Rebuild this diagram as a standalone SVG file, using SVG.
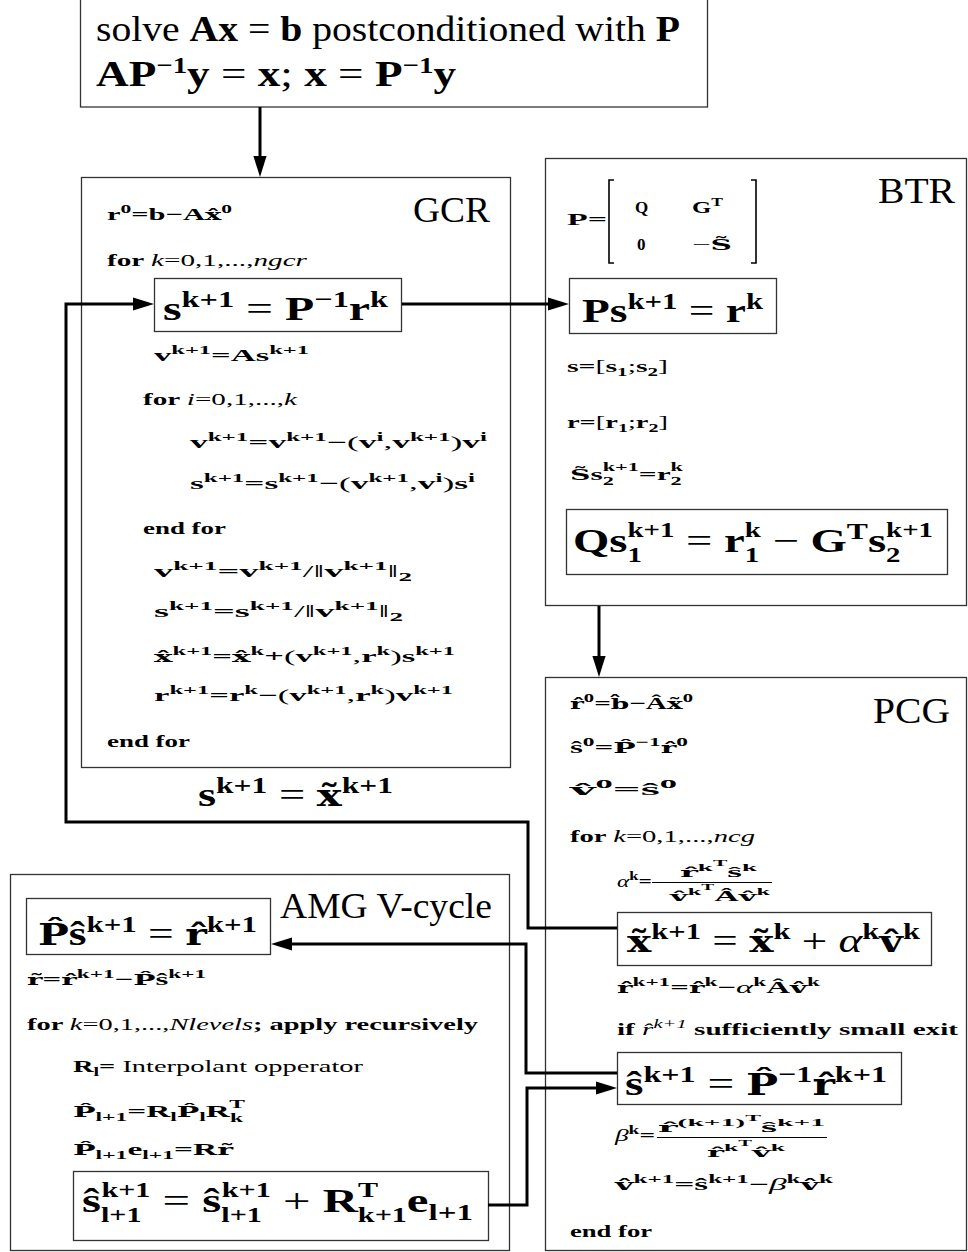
<svg xmlns="http://www.w3.org/2000/svg" width="968" height="1252" viewBox="0 0 968 1252">
<defs>
<style>
text{font-family:"Liberation Serif","DejaVu Serif",serif;fill:#000}
.T{font-size:36px}
.L{font-size:34px;font-weight:bold}
.s{font-size:17px;font-weight:bold}
.f{font-size:14px;font-weight:bold}
.b{font-weight:bold}
.n{font-weight:normal}
.i{font-style:italic;font-weight:normal}
.h{font-family:"DejaVu Serif",serif;font-size:0.9em}
.L .u{font-size:23px;baseline-shift:13px}
.L .d{font-size:23px;baseline-shift:-8px}
.L .uh{font-size:21px;baseline-shift:15px}
.L .dl{font-size:21px;baseline-shift:-10px}
.s .u{font-size:12px;baseline-shift:7px}
.s .d{font-size:12px;baseline-shift:-4px}
.s .uh{font-size:12px;baseline-shift:9px}
.s .dl{font-size:12px;baseline-shift:-5px}
.f .u{font-size:10px;baseline-shift:6px}
.f .uu{font-size:8px;baseline-shift:11px}
.box{fill:#fff;stroke:#333;stroke-width:1.3}
.ibox{fill:none;stroke:#333;stroke-width:1.3}
.c{fill:none;stroke:#000;stroke-width:3;stroke-linejoin:miter}
.bar{stroke:#000;stroke-width:1}
.br{fill:none;stroke:#000;stroke-width:1.6}
</style>
<marker id="ah" markerWidth="7" markerHeight="4.4" refX="5" refY="2.2" orient="auto" markerUnits="strokeWidth"><path d="M0,0 L7,2.2 L0,4.4 Z" fill="#000"/></marker>
</defs>

<g id="top">
<rect class="box" x="80.5" y="-1" width="627" height="108"/>
<text class="T" x="96" y="41" textLength="584" lengthAdjust="spacingAndGlyphs">solve <tspan class="b">Ax</tspan> = <tspan class="b">b</tspan> postconditioned with <tspan class="b">P</tspan></text>
<text class="L" style="font-size:36px" x="96" y="86" textLength="360" lengthAdjust="spacingAndGlyphs">AP<tspan class="u">−1</tspan>y<tspan class="n"> = </tspan>x<tspan class="n">; </tspan>x<tspan class="n"> = </tspan>P<tspan class="u">−1</tspan>y</text>
</g>

<g id="gcr">
<rect class="box" x="81.5" y="177.5" width="429" height="590"/>
<text class="T" x="413" y="222" textLength="77" lengthAdjust="spacingAndGlyphs">GCR</text>
<text class="s" x="107" y="220" textLength="125" lengthAdjust="spacingAndGlyphs">r<tspan class="u">0</tspan>=b−A<tspan class="h">x&#770;</tspan><tspan class="u">0</tspan></text>
<text class="s" x="107" y="266" textLength="200" lengthAdjust="spacingAndGlyphs">for <tspan class="i">k</tspan><tspan class="n">=0,1,...,</tspan><tspan class="i">ngcr</tspan></text>
<g id="gcr-solve">
<rect class="ibox" x="154.5" y="278.5" width="247" height="53"/>
<text class="L" x="163" y="320" textLength="225" lengthAdjust="spacingAndGlyphs">s<tspan class="u">k+1</tspan><tspan class="n"> = </tspan>P<tspan class="u">−1</tspan>r<tspan class="u">k</tspan></text>
</g>
<text class="s" x="154" y="361" textLength="155" lengthAdjust="spacingAndGlyphs">v<tspan class="u">k+1</tspan>=As<tspan class="u">k+1</tspan></text>
<text class="s" x="143" y="405" textLength="154" lengthAdjust="spacingAndGlyphs">for <tspan class="i">i</tspan><tspan class="n">=0,1,...,</tspan><tspan class="i">k</tspan></text>
<text class="s" x="190" y="448" textLength="297" lengthAdjust="spacingAndGlyphs">v<tspan class="u">k+1</tspan>=v<tspan class="u">k+1</tspan>−<tspan class="n">(</tspan>v<tspan class="u">i</tspan><tspan class="n">,</tspan>v<tspan class="u">k+1</tspan><tspan class="n">)</tspan>v<tspan class="u">i</tspan></text>
<text class="s" x="190" y="489" textLength="285" lengthAdjust="spacingAndGlyphs">s<tspan class="u">k+1</tspan>=s<tspan class="u">k+1</tspan>−<tspan class="n">(</tspan>v<tspan class="u">k+1</tspan><tspan class="n">,</tspan>v<tspan class="u">i</tspan><tspan class="n">)</tspan>s<tspan class="u">i</tspan></text>
<text class="s" x="143" y="534" textLength="83" lengthAdjust="spacingAndGlyphs">end for</text>
<text class="s" x="154" y="577" textLength="258" lengthAdjust="spacingAndGlyphs">v<tspan class="u">k+1</tspan>=v<tspan class="u">k+1</tspan><tspan class="n">/‖</tspan>v<tspan class="u">k+1</tspan><tspan class="n">‖</tspan><tspan class="d">2</tspan></text>
<text class="s" x="154" y="617" textLength="249" lengthAdjust="spacingAndGlyphs">s<tspan class="u">k+1</tspan>=s<tspan class="u">k+1</tspan><tspan class="n">/‖</tspan>v<tspan class="u">k+1</tspan><tspan class="n">‖</tspan><tspan class="d">2</tspan></text>
<text class="s" x="154" y="662" textLength="301" lengthAdjust="spacingAndGlyphs"><tspan class="h">x&#770;</tspan><tspan class="u">k+1</tspan>=<tspan class="h">x&#770;</tspan><tspan class="u">k</tspan>+<tspan class="n">(</tspan>v<tspan class="u">k+1</tspan><tspan class="n">,</tspan>r<tspan class="u">k</tspan><tspan class="n">)</tspan>s<tspan class="u">k+1</tspan></text>
<text class="s" x="154" y="701" textLength="299" lengthAdjust="spacingAndGlyphs">r<tspan class="u">k+1</tspan>=r<tspan class="u">k</tspan>−<tspan class="n">(</tspan>v<tspan class="u">k+1</tspan><tspan class="n">,</tspan>r<tspan class="u">k</tspan><tspan class="n">)</tspan>v<tspan class="u">k+1</tspan></text>
<text class="s" x="107" y="747" textLength="83" lengthAdjust="spacingAndGlyphs">end for</text>
</g>

<g id="label-s-eq-x">
<text class="L" x="198" y="806" textLength="195" lengthAdjust="spacingAndGlyphs">s<tspan class="u">k+1</tspan><tspan class="n"> = </tspan><tspan class="h">x&#771;</tspan><tspan class="u">k+1</tspan></text>
</g>

<g id="btr">
<rect class="box" x="545.5" y="158.5" width="421" height="447"/>
<text class="T" x="878" y="203" textLength="77" lengthAdjust="spacingAndGlyphs">BTR</text>
<text class="s" x="567" y="225" textLength="40" lengthAdjust="spacingAndGlyphs">P=</text>
<path class="br" d="M614,180 H609 V263 H614"/>
<path class="br" d="M751,180 H756 V263 H751"/>
<text class="s" x="635" y="213">Q</text>
<text class="s" x="692" y="213" textLength="31" lengthAdjust="spacingAndGlyphs">G<tspan class="u">T</tspan></text>
<text class="s" x="637" y="250">0</text>
<text class="s" x="692" y="250" textLength="40" lengthAdjust="spacingAndGlyphs"><tspan class="n">−</tspan><tspan class="h">S&#771;</tspan></text>
<g id="btr-solve">
<rect class="ibox" x="569.5" y="278.5" width="207" height="55"/>
<text class="L" x="582" y="322" textLength="181" lengthAdjust="spacingAndGlyphs">Ps<tspan class="u">k+1</tspan><tspan class="n"> = </tspan>r<tspan class="u">k</tspan></text>
</g>
<text class="s" x="567" y="372" textLength="101" lengthAdjust="spacingAndGlyphs">s=<tspan class="n">[</tspan>s<tspan class="d">1</tspan><tspan class="n">;</tspan>s<tspan class="d">2</tspan><tspan class="n">]</tspan></text>
<text class="s" x="567" y="428" textLength="101" lengthAdjust="spacingAndGlyphs">r=<tspan class="n">[</tspan>r<tspan class="d">1</tspan><tspan class="n">;</tspan>r<tspan class="d">2</tspan><tspan class="n">]</tspan></text>
<text class="s" x="570" y="480" textLength="113" lengthAdjust="spacingAndGlyphs"><tspan class="h">S&#771;</tspan>s<tspan class="dl">2</tspan><tspan class="uh" dx="-6">k+1</tspan>=r<tspan class="dl">2</tspan><tspan class="uh" dx="-6">k</tspan></text>
<g id="btr-q">
<rect class="ibox" x="566.5" y="509.5" width="381" height="65"/>
<text class="L" x="573" y="552" textLength="360" lengthAdjust="spacingAndGlyphs">Qs<tspan class="dl">1</tspan><tspan class="uh" dx="-10.5">k+1</tspan><tspan class="n"> = </tspan>r<tspan class="dl">1</tspan><tspan class="uh" dx="-10.5">k</tspan><tspan class="n"> − </tspan>G<tspan class="u">T</tspan>s<tspan class="dl">2</tspan><tspan class="uh" dx="-10.5">k+1</tspan></text>
</g>
</g>

<g id="pcg">
<rect class="box" x="545.5" y="677.5" width="421" height="573"/>
<text class="T" x="873" y="723" textLength="77" lengthAdjust="spacingAndGlyphs">PCG</text>
<text class="s" x="570" y="709" textLength="123" lengthAdjust="spacingAndGlyphs"><tspan class="h">r&#770;</tspan><tspan class="u">0</tspan>=<tspan class="h">b&#770;</tspan>−Â<tspan class="h">x&#771;</tspan><tspan class="u">0</tspan></text>
<text class="s" x="570" y="753" textLength="118" lengthAdjust="spacingAndGlyphs">ŝ<tspan class="u">0</tspan>=<tspan class="h">P&#770;</tspan><tspan class="u">−1</tspan><tspan class="h">r&#770;</tspan><tspan class="u">0</tspan></text>
<text class="s" x="570" y="795" textLength="107" lengthAdjust="spacingAndGlyphs"><tspan class="h">v&#770;</tspan><tspan class="u">0</tspan>=ŝ<tspan class="u">0</tspan></text>
<text class="s" x="570" y="842" textLength="185" lengthAdjust="spacingAndGlyphs">for <tspan class="i">k</tspan><tspan class="n">=0,1,...,</tspan><tspan class="i">ncg</tspan></text>
<text class="s" x="617" y="887" textLength="35" lengthAdjust="spacingAndGlyphs"><tspan class="i">α</tspan><tspan class="u">k</tspan>=</text>
<text class="f" x="680" y="877" textLength="77" lengthAdjust="spacingAndGlyphs"><tspan class="h">r&#770;</tspan><tspan class="u">k</tspan><tspan class="uu">T</tspan>ŝ<tspan class="u">k</tspan></text>
<line class="bar" x1="652" y1="882.5" x2="772" y2="882.5"/>
<text class="f" x="670" y="901" textLength="100" lengthAdjust="spacingAndGlyphs"><tspan class="h">v&#770;</tspan><tspan class="u">k</tspan><tspan class="uu">T</tspan>Â<tspan class="h">v&#770;</tspan><tspan class="u">k</tspan></text>
<g id="pcg-x">
<rect class="ibox" x="617.5" y="912.5" width="314" height="53"/>
<text class="L" x="627" y="952" textLength="293" lengthAdjust="spacingAndGlyphs"><tspan class="h">x&#771;</tspan><tspan class="u">k+1</tspan><tspan class="n"> = </tspan><tspan class="h">x&#771;</tspan><tspan class="u">k</tspan><tspan class="n"> + </tspan><tspan class="i">α</tspan><tspan class="u">k</tspan><tspan class="h">v&#770;</tspan><tspan class="u">k</tspan></text>
</g>
<text class="s" x="617" y="993" textLength="203" lengthAdjust="spacingAndGlyphs"><tspan class="h">r&#770;</tspan><tspan class="u">k+1</tspan>=<tspan class="h">r&#770;</tspan><tspan class="u">k</tspan>−<tspan class="i">α</tspan><tspan class="u">k</tspan>Â<tspan class="h">v&#770;</tspan><tspan class="u">k</tspan></text>
<text class="s" x="617" y="1035" textLength="341" lengthAdjust="spacingAndGlyphs">if <tspan class="i">r&#770;</tspan><tspan class="u i">k+1</tspan> sufficiently small exit</text>
<g id="pcg-s">
<rect class="ibox" x="617.5" y="1052.5" width="284" height="52"/>
<text class="L" x="625" y="1095" textLength="262" lengthAdjust="spacingAndGlyphs">ŝ<tspan class="u">k+1</tspan><tspan class="n"> = </tspan><tspan class="h">P&#770;</tspan><tspan class="u">−1</tspan><tspan class="h">r&#770;</tspan><tspan class="u">k+1</tspan></text>
</g>
<text class="s" x="615" y="1141" textLength="40" lengthAdjust="spacingAndGlyphs"><tspan class="i">β</tspan><tspan class="u">k</tspan>=</text>
<text class="f" x="658" y="1132" textLength="167" lengthAdjust="spacingAndGlyphs"><tspan class="h">r&#770;</tspan><tspan class="u">(k+1)</tspan><tspan class="uu">T</tspan>ŝ<tspan class="u">k+1</tspan></text>
<line class="bar" x1="657" y1="1137.5" x2="827" y2="1137.5"/>
<text class="f" x="707" y="1157" textLength="78" lengthAdjust="spacingAndGlyphs"><tspan class="h">r&#770;</tspan><tspan class="u">k</tspan><tspan class="uu">T</tspan><tspan class="h">v&#770;</tspan><tspan class="u">k</tspan></text>
<text class="s" x="615" y="1190" textLength="218" lengthAdjust="spacingAndGlyphs"><tspan class="h">v&#770;</tspan><tspan class="u">k+1</tspan>=ŝ<tspan class="u">k+1</tspan>−<tspan class="i">β</tspan><tspan class="u">k</tspan><tspan class="h">v&#770;</tspan><tspan class="u">k</tspan></text>
<text class="s" x="570" y="1237" textLength="82" lengthAdjust="spacingAndGlyphs">end for</text>
</g>

<g id="amg">
<rect class="box" x="10.5" y="874.5" width="499" height="376"/>
<text class="T" x="280" y="918" textLength="212" lengthAdjust="spacingAndGlyphs">AMG V-cycle</text>
<g id="amg-solve">
<rect class="ibox" x="26.5" y="898.5" width="244" height="56"/>
<text class="L" x="38" y="945" textLength="219" lengthAdjust="spacingAndGlyphs"><tspan class="h">P&#770;</tspan>ŝ<tspan class="u">k+1</tspan><tspan class="n"> = </tspan><tspan class="h">r&#770;</tspan><tspan class="u">k+1</tspan></text>
</g>
<text class="s" x="27" y="985" textLength="179" lengthAdjust="spacingAndGlyphs"><tspan class="h">r&#771;</tspan>=<tspan class="h">r&#770;</tspan><tspan class="u">k+1</tspan>−<tspan class="h">P&#770;</tspan>ŝ<tspan class="u">k+1</tspan></text>
<text class="s" x="27" y="1030" textLength="451" lengthAdjust="spacingAndGlyphs">for <tspan class="i">k</tspan><tspan class="n">=0,1,...,</tspan><tspan class="i">Nlevels</tspan>; apply recursively</text>
<text class="s" x="73" y="1072" textLength="290" lengthAdjust="spacingAndGlyphs">R<tspan class="d">l</tspan>= <tspan class="n">Interpolant opperator</tspan></text>
<text class="s" x="73" y="1117" textLength="172" lengthAdjust="spacingAndGlyphs"><tspan class="h">P&#770;</tspan><tspan class="d">l+1</tspan>=R<tspan class="d">l</tspan><tspan class="h">P&#770;</tspan><tspan class="d">l</tspan>R<tspan class="dl">k</tspan><tspan class="uh" dx="-7">T</tspan></text>
<text class="s" x="73" y="1155" textLength="160" lengthAdjust="spacingAndGlyphs"><tspan class="h">P&#770;</tspan><tspan class="d">l+1</tspan>e<tspan class="d">l+1</tspan>=R<tspan class="h">r&#771;</tspan></text>
<g id="amg-update">
<rect class="ibox" x="73.5" y="1171.5" width="415" height="69"/>
<text class="L" x="82" y="1212" textLength="391" lengthAdjust="spacingAndGlyphs">ŝ<tspan class="dl">l+1</tspan><tspan class="uh" dx="-28">k+1</tspan><tspan class="n"> = </tspan>ŝ<tspan class="dl">l+1</tspan><tspan class="uh" dx="-28">k+1</tspan><tspan class="n"> + </tspan>R<tspan class="dl">k+1</tspan><tspan class="uh" dx="-34">T</tspan><tspan dx="20">e</tspan><tspan class="d">l+1</tspan></text>
</g>
</g>

<g id="connectors">
<path class="c" d="M260,107 V171" marker-end="url(#ah)"/>
<path class="c" d="M402,304 H563" marker-end="url(#ah)"/>
<path class="c" d="M599,606 V671" marker-end="url(#ah)"/>
<path class="c" d="M617,928 H528 V822 H66 V304 H148" marker-end="url(#ah)"/>
<path class="c" d="M617,1073 H526 V944 H277" marker-end="url(#ah)"/>
<path class="c" d="M488,1205 H527 V1088 H611" marker-end="url(#ah)"/>
</g>
</svg>
